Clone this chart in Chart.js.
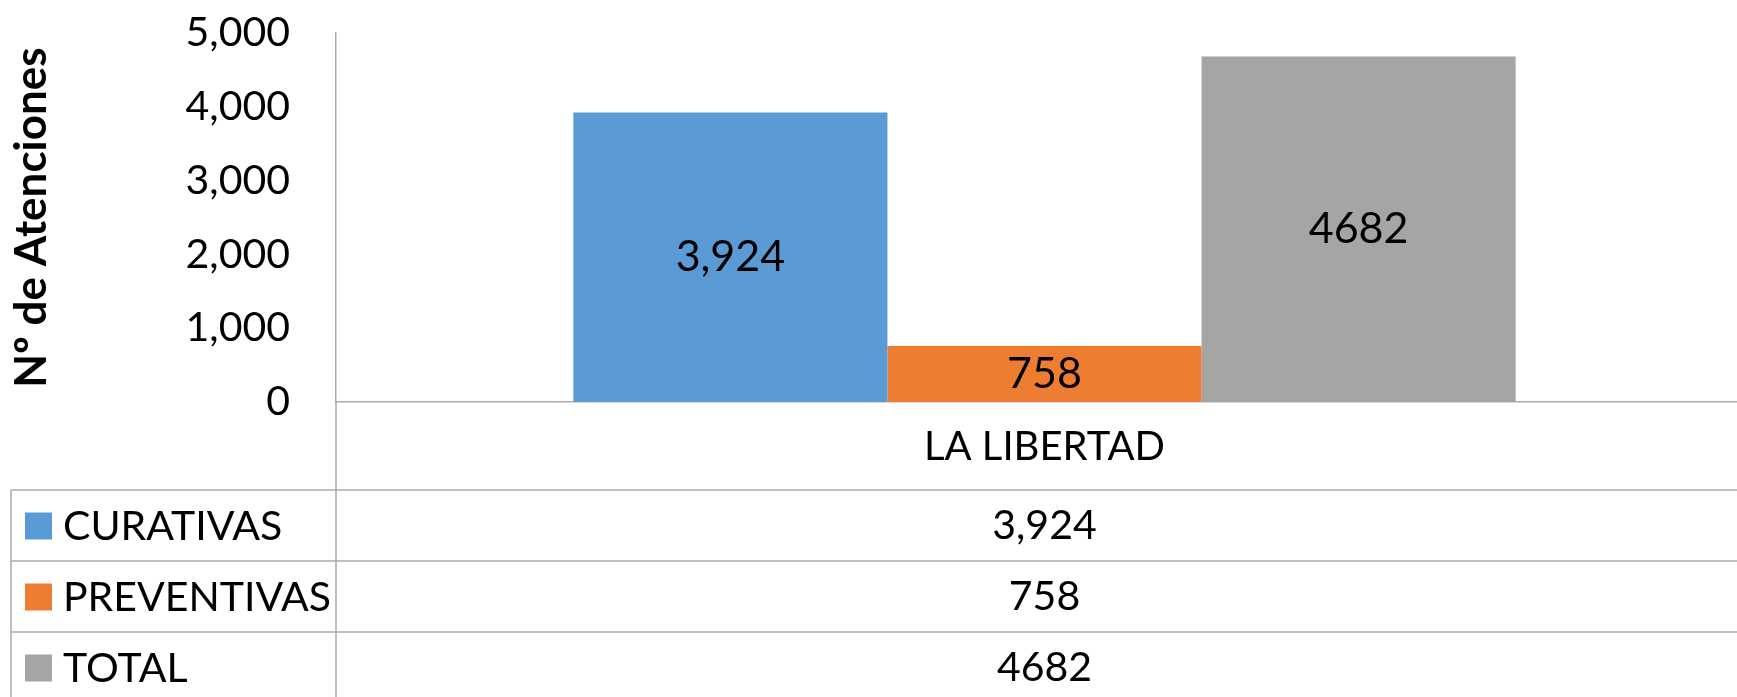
<!DOCTYPE html>
<html>
<head>
<meta charset="utf-8">
<script src="https://cdn.jsdelivr.net/npm/chart.js@4"></script>
<style>
  html, body { margin: 0; padding: 0; background: #fff; overflow: hidden; }
  #view { width: 1737px; height: 697px; overflow: hidden; }
  /* plot area runs a little past the right edge */
  #wrap { width: 1753px; height: 697px; position: relative; }
</style>
</head>
<body>
<div id="view"><div id="wrap"><canvas id="chart"></canvas></div></div>
<script>
const categories = ['LA LIBERTAD'];
const seriesNames = ['CURATIVAS', 'PREVENTIVAS', 'TOTAL'];
const curativas = [3924];
const preventivas = [758];
const total = [4682];
const yTicks = [0, 1000, 2000, 3000, 4000, 5000];
const seriesColors = ['#5B9BD5', '#ED7D31', '#A5A5A5'];
// the TOTAL row was typed without a thousands separator
const groupDigits = [true, true, false];

const FONT = 'Lato, "Open Sans", sans-serif';
const LINE = '#ababab';

function fmt(v, grouped) {
  return grouped ? v.toLocaleString('en-US') : String(v);
}

// value labels in the middle of each bar
const barLabels = {
  id: 'barLabels',
  afterDatasetsDraw(chart) {
    const ctx = chart.ctx;
    ctx.save();
    ctx.font = '43px ' + FONT;
    ctx.fillStyle = '#000';
    ctx.textAlign = 'center';
    ctx.textBaseline = 'middle';
    chart.data.datasets.forEach((ds, i) => {
      chart.getDatasetMeta(i).data.forEach((bar, j) => {
        const y = (bar.y + bar.base) / 2;
        ctx.fillText(fmt(ds.data[j], groupDigits[i]), bar.x, y);
      });
    });
    ctx.restore();
  }
};

// data table under the category axis
const dataTable = {
  id: 'dataTable',
  afterDraw(chart) {
    const ctx = chart.ctx;
    const area = chart.chartArea;
    const xs = chart.scales.x;
    const W = chart.width, H = chart.height;
    const tableTop = area.bottom + 88;
    const rowH = 71;
    const left = 11;

    ctx.save();
    ctx.strokeStyle = LINE;
    ctx.lineWidth = 1.5;
    ctx.beginPath();
    ctx.moveTo(area.left, area.bottom);
    ctx.lineTo(area.left, H);
    ctx.moveTo(left, tableTop);
    ctx.lineTo(left, H);
    for (let r = 0; r < seriesNames.length; r++) {
      const y = tableTop + r * rowH;
      ctx.moveTo(left, y);
      ctx.lineTo(W, y);
    }
    ctx.stroke();

    ctx.font = '41px ' + FONT;
    ctx.textBaseline = 'middle';
    const series = [curativas, preventivas, total];
    seriesNames.forEach((name, r) => {
      const cy = tableTop + r * rowH + rowH / 2;
      ctx.fillStyle = seriesColors[r];
      ctx.fillRect(25, cy - 13, 27, 27);
      ctx.fillStyle = '#000';
      ctx.textAlign = 'left';
      ctx.fillText(name, 63, cy + 1);
      ctx.textAlign = 'center';
      categories.forEach((c, j) => {
        ctx.fillText(fmt(series[r][j], groupDigits[r]), xs.getPixelForValue(j), cy);
      });
    });
    ctx.restore();
  }
};

new Chart(document.getElementById('chart'), {
  type: 'bar',
  data: {
    labels: categories,
    datasets: [
      { label: seriesNames[0], data: curativas, backgroundColor: seriesColors[0] },
      { label: seriesNames[1], data: preventivas, backgroundColor: seriesColors[1] },
      { label: seriesNames[2], data: total, backgroundColor: seriesColors[2] }
    ]
  },
  options: {
    responsive: true,
    maintainAspectRatio: false,
    animation: false,
    layout: { padding: { top: 33, left: 0, right: 0, bottom: 0 } },
    datasets: { bar: { categoryPercentage: 0.665, barPercentage: 1 } },
    plugins: { legend: { display: false }, tooltip: { enabled: false } },
    scales: {
      x: {
        grid: { display: false, drawTicks: false },
        border: { display: true, color: LINE, width: 1.5 },
        ticks: { color: '#000', font: { family: FONT, size: 40 }, padding: 21 },
        afterFit(scale) {
          scale.height = 295;
          scale.paddingLeft = 0;
          scale.paddingRight = 0;
        }
      },
      y: {
        min: 0,
        max: 5000,
        grid: { display: false, drawTicks: false },
        border: { display: true, color: LINE, width: 1.5 },
        afterBuildTicks(scale) { scale.ticks = yTicks.map(v => ({ value: v })); },
        ticks: {
          color: '#000',
          font: { family: FONT, size: 41 },
          padding: 46,
          callback: v => v.toLocaleString('en-US')
        },
        title: {
          display: true,
          text: 'Nº de Atenciones',
          color: '#000',
          font: { family: FONT, size: 44, weight: 'bold' },
          padding: { top: 5, bottom: 0 }
        },
        afterFit(scale) {
          scale.width = 336;
          scale.paddingTop = 0;
          scale.paddingBottom = 0;
        }
      }
    }
  },
  plugins: [barLabels, dataTable]
});
</script>
</body>
</html>
